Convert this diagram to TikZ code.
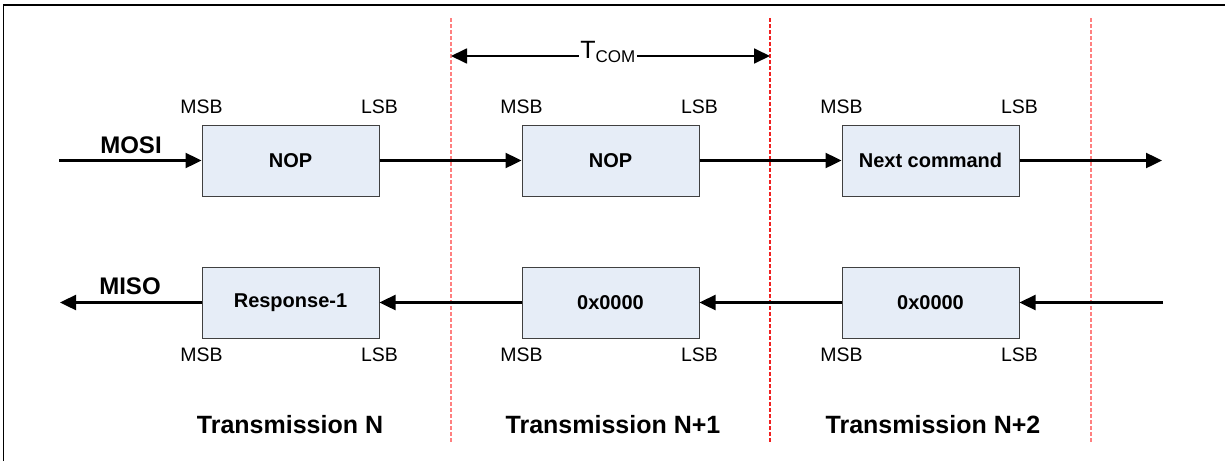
\documentclass[tikz,border=0pt]{standalone}
\usepackage{fontspec}
\setmainfont{Liberation Sans}
\usetikzlibrary{arrows.meta}
\definecolor{boxfill}{HTML}{E6EDF7}
\definecolor{lightred}{HTML}{FF8080}
\definecolor{darkred}{HTML}{F02020}
\begin{document}
\begin{tikzpicture}[x=1pt,y=-1pt,
  databox/.style={draw=black!75, line width=1pt, fill=boxfill, minimum width=177pt, minimum height=71pt, inner sep=0pt, font=\fontsize{20}{24}\selectfont\bfseries},
  bitlbl/.style={font=\fontsize{19.5}{22}\selectfont, inner sep=0pt},
  siglbl/.style={font=\fontsize{24}{28}\selectfont\bfseries, inner sep=0pt},
  translbl/.style={font=\fontsize{25}{30}\selectfont\bfseries, inner sep=0pt},
  sig/.style={line width=2.4pt, -{Triangle[length=16pt,width=15pt]}},
  sepline/.style={line width=1.4pt, dash pattern=on 4pt off 2pt},
  dim/.style={line width=1.8pt, {Triangle[length=16pt,width=15pt]}-{Triangle[length=16pt,width=15pt]}}
]
\useasboundingbox (0,0) rectangle (1225,461);
% frame (top and left edges visible)
\draw[line width=1.5pt] (3.5,461) -- (3.5,5) -- (1225,5);

% separators
\coordinate (s1t) at (451,18);  \coordinate (s1b) at (451,442);
\coordinate (s2t) at (770,18);  \coordinate (s2b) at (770,442);
\coordinate (s3t) at (1091,18); \coordinate (s3b) at (1091,442);
\draw[sepline, lightred] (s1t) -- (s1b);
\draw[sepline, darkred] (s2t) -- (s2b);
\draw[sepline, lightred] (s3t) -- (s3b);

% T_COM
\coordinate (ta) at (451,56);
\coordinate (tb) at (770,56);
\draw[dim] (ta) -- (tb);
\node[fill=white, inner sep=1pt, font=\fontsize{25}{30}\selectfont] (tcom) at (608,52) {T\textsubscript{\fontsize{17}{20}\selectfont COM}};

% MOSI row
\node[databox] (m1) at (290.5,160.5) {NOP};
\node[databox] (m2) at (610.5,160.5) {NOP};
\node[databox] (m3) at (930.5,160.5) {Next command};
% MISO row
\node[databox] (r1) at (290.5,302.5) {Response-1};
\node[databox] (r2) at (610.5,302.5) {0x0000};
\node[databox] (r3) at (930.5,302.5) {0x0000};

% MSB / LSB labels
\foreach \b in {m1,m2,m3}{
  \node[bitlbl] (\b msb) at ([yshift=54pt]\b.west) {MSB};
  \node[bitlbl] (\b lsb) at ([yshift=54pt]\b.east) {LSB};
}
\foreach \b in {r1,r2,r3}{
  \node[bitlbl] (\b msb) at ([yshift=-52.5pt]\b.west) {MSB};
  \node[bitlbl] (\b lsb) at ([yshift=-52.5pt]\b.east) {LSB};
}

% signal labels
\node[siglbl] (mosi) at (131,145) {MOSI};
\node[siglbl] (miso) at (130,286) {MISO};

% MOSI connectors
\coordinate (mosiin) at (59,160.5);
\coordinate (mosiout) at (1162,160.5);
\draw[sig] (mosiin) -- (m1.west);
\draw[sig] (m1.east) -- (m2.west);
\draw[sig] (m2.east) -- (m3.west);
\draw[sig] (m3.east) -- (mosiout);

% MISO connectors
\coordinate (misoin) at (1163,302.5);
\coordinate (misoout) at (60,302.5);
\draw[sig] (misoin) -- (r3.east);
\draw[sig] (r3.west) -- (r2.east);
\draw[sig] (r2.west) -- (r1.east);
\draw[sig] (r1.west) -- (misoout);

% transmission labels
\node[translbl] (tn) at (290,425) {Transmission N};
\node[translbl] (tn1) at (613,425) {Transmission N+1};
\node[translbl] (tn2) at (933,425) {Transmission N+2};
\end{tikzpicture}
\end{document}
